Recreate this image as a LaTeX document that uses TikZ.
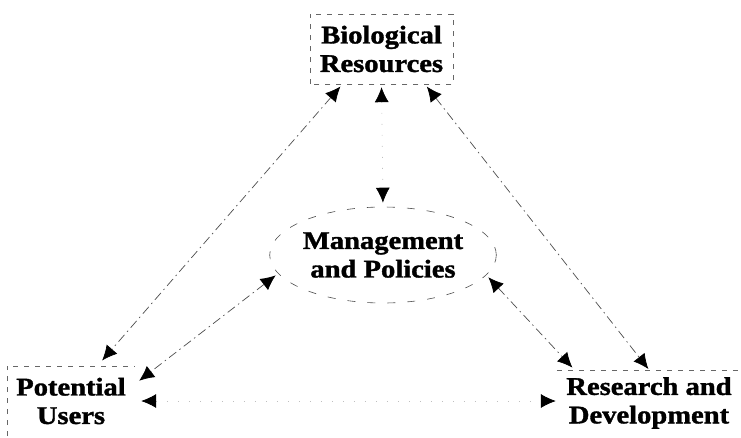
\documentclass[tikz,border=0pt]{standalone}
\usepackage{fontspec}
\newfontfamily\labelfont{Liberation Serif}[FakeStretch=1.12, BoldFeatures={FakeBold=1.4}]
\usetikzlibrary{shapes,arrows.meta,positioning}

\begin{document}
\begin{tikzpicture}[x=1pt,y=-1pt,
box/.style={
% The shape:
rectangle,
minimum width=143pt, minimum height=70pt,
% The rest
align=center,
font=\labelfont\bfseries\fontsize{25.5}{28.5}\selectfont},
boxline/.style={draw=black!60, line width=0.6pt, dash pattern=on 5pt off 6pt},
cloud/.style={
ellipse, inner sep=0pt,
minimum width=190pt, minimum height=96pt,
draw=black!70, line width=0.6pt, dash pattern=on 8pt off 12pt,
align=center,
font=\labelfont\bfseries\fontsize{25.5}{28.5}\selectfont},
link/.style={
draw=black!70, line width=0.7pt,
dash pattern=on 9pt off 4pt on 1.5pt off 4pt,
{Latex[length=15pt,width=14pt,color=black]}-{Latex[length=15pt,width=14pt,color=black]},
shorten <=3pt, shorten >=3pt},
faint/.style={link, draw=black!25, dash pattern=on 1pt off 10pt}]

\useasboundingbox (0,0) rectangle (741,437);

\node (Bio) [box] at (381.5,49) {Biological\\Resources};
\node (Mgmt) [cloud] at (383,255) {Management\\and Policies};
\node (Users) [box, minimum width=128pt] at (71,401) {Potential\\Users};
\node (RnD) [box, minimum width=184pt, minimum height=66pt] at (649,403) {Research and\\Development};

% box outlines, only the parts that show
\draw[boxline] (Bio.south west) rectangle (Bio.north east);
\draw[boxline] (Users.south west) -- (Users.north west) -- (Users.north east);
\draw[boxline] (RnD.north west) -- (RnD.north east);

\path
(Bio.222) edge[link, shorten >=7pt] (Users.53) % outer edges
(Bio.321) edge[link, shorten >=1pt] (RnD.north)
(Bio.south) edge[faint, shorten >=4pt] (Mgmt.north)
(Mgmt.190) edge[link, shorten >=5pt] (Users.15) % to the middle
(Mgmt.349) edge[link] (RnD.156)
(Users.east) edge[faint, shorten <=6pt, shorten >=1pt] (Users.east -| RnD.west);

\end{tikzpicture}
\end{document}
